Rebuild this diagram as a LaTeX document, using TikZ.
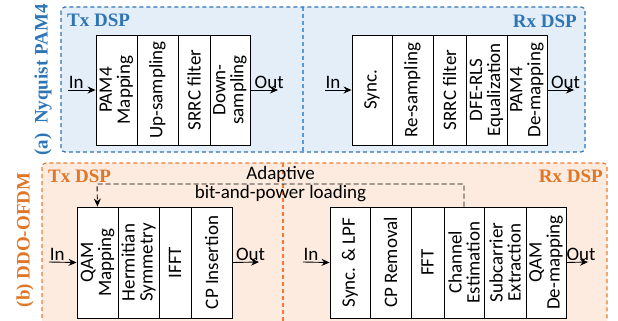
\documentclass[tikz,border=0pt]{standalone}
\usepackage{fontspec}
\setmainfont{Carlito}
\newfontfamily\headfont{Liberation Serif}
\usetikzlibrary{arrows.meta}

\definecolor{pamblue}{HTML}{2E75B6}
\definecolor{pamline}{HTML}{5B9BD5}
\definecolor{pamfill}{HTML}{E4EEF8}
\definecolor{ofdmorange}{HTML}{ED7D31}
\definecolor{ofdmtext}{HTML}{E07628}
\definecolor{ofdmfill}{HTML}{FCEBDE}

\tikzset{
    blk/.style={draw, fill=white, line width=0.9pt, rotate=90, inner sep=0pt,
        align=center, font=\fontsize{19}{18}\selectfont},
    lbl/.style={font=\fontsize{19}{20}\selectfont, inner sep=1pt},
    dsp/.style={font=\headfont\bfseries\fontsize{19}{20}\selectfont, inner sep=0pt},
    panel/.style={line width=1.2pt, dash pattern=on 4pt off 3pt, rounded corners=4pt},
    sig/.style={line width=0.9pt, -{Stealth[length=8pt,width=7pt]}},
}

\begin{document}
\begin{tikzpicture}[x=1pt, y=-1pt]

        \clip (0,0) rectangle (618,321);

        % (a) Nyquist PAM4
        \fill[pamfill, rounded corners=4pt] (61,7) rectangle (585,152);
        \draw[pamline, line width=1.2pt, dash pattern=on 4pt off 3pt] (303,7) -- (303,152);
        \draw[panel, pamblue] (61,7) rectangle (585,152);
        \node(aname)[dsp, pamblue, rotate=90] at (43,80) {(a)\ \ Nyquist PAM4};
        \node(atx)[dsp, pamblue, anchor=west] at (67,20) {Tx DSP};
        \node(arx)[dsp, pamblue, anchor=east] at (577,21) {Rx DSP};

        % Tx:
        \node(pam)[blk, minimum width=110pt, minimum height=41pt] at (116.5,90) {PAM4\\Mapping};
        \node(ups)[blk, minimum width=110pt, minimum height=41pt] at (157.5,90) {Up-sampling};
        \node(srrct)[blk, minimum width=110pt, minimum height=32pt] at (194,90) {SRRC filter};
        \node(dws)[blk, minimum width=110pt, minimum height=40pt] at (230,90) {Down-\\sampling};
        \coordinate(atxin) at (68,90);
        \coordinate(atxout) at (278,90);
        \draw[sig] (atxin) -- node[lbl, pos=0.3, above]{In} (pam.north);
        \draw[sig] (dws.south) -- node[lbl, pos=0.68, above]{Out} (atxout);

        % Rx:
        \node(syn)[blk, minimum width=110pt, minimum height=40pt] at (372,90) {Sync.};
        \node(rsm)[blk, minimum width=110pt, minimum height=41pt] at (412.5,90) {Re-sampling};
        \node(srrcr)[blk, minimum width=110pt, minimum height=33pt] at (449.5,90) {SRRC filter};
        \node(dfe)[blk, minimum width=110pt, minimum height=41pt] at (486.5,90) {DFE-RLS\\Equalization};
        \node(pdm)[blk, minimum width=110pt, minimum height=40pt] at (527,90) {PAM4\\De-mapping};
        \coordinate(arxin) at (325,90);
        \coordinate(arxout) at (574,90);
        \draw[sig] (arxin) -- node[lbl, pos=0.3, above]{In} (syn.north);
        \draw[sig] (pdm.south) -- node[lbl, pos=0.68, above]{Out} (arxout);

        % (b) DDO-OFDM
        \fill[ofdmfill, rounded corners=4pt] (42,163) rectangle (607,340);
        \draw[ofdmorange, line width=1.2pt, dash pattern=on 4pt off 3pt] (283,163) -- (283,340);
        \draw[panel, ofdmorange] (42,163) rectangle (607,340);
        \node(bname)[dsp, ofdmtext, rotate=90] at (25,240) {(b) DDO-OFDM};
        \node(btx)[dsp, ofdmtext, anchor=west] at (48,176) {Tx DSP};
        \node(brx)[dsp, ofdmtext, anchor=east] at (603,176) {Rx DSP};

        % Tx:
        \node(qam)[blk, minimum width=111pt, minimum height=41pt] at (97.5,262.5) {QAM\\Mapping};
        \node(hsym)[blk, minimum width=111pt, minimum height=41pt] at (138.5,262.5) {Hermitian\\Symmetry};
        \node(ifft)[blk, minimum width=111pt, minimum height=32pt] at (175,262.5) {IFFT};
        \node(cpi)[blk, minimum width=111pt, minimum height=41pt] at (211.5,262.5) {CP Insertion};
        \coordinate(btxin) at (49,262);
        \coordinate(btxout) at (259,262);
        \draw[sig] (btxin) -- node[lbl, pos=0.3, above]{In} (qam.north);
        \draw[sig] (cpi.south) -- node[lbl, pos=0.68, above]{Out} (btxout);

        % Rx:
        \node(slpf)[blk, minimum width=111pt, minimum height=40pt] at (350,262.5) {Sync. \& LPF};
        \node(cpr)[blk, minimum width=111pt, minimum height=41pt] at (390.5,262.5) {CP Removal};
        \node(fft)[blk, minimum width=111pt, minimum height=33pt] at (427.5,262.5) {FFT};
        \node(che)[blk, minimum width=111pt, minimum height=40pt] at (464,262.5) {Channel\\Estimation};
        \node(sce)[blk, minimum width=111pt, minimum height=42pt] at (505,262.5) {Subcarrier\\Extraction};
        \node(qdm)[blk, minimum width=111pt, minimum height=40pt] at (546,262.5) {QAM\\De-mapping};
        \coordinate(brxin) at (303,262);
        \coordinate(brxout) at (588,262);
        \draw[sig] (brxin) -- node[lbl, pos=0.3, above]{In} (slpf.north);
        \draw[sig] (qdm.south) -- node[lbl, pos=0.68, above]{Out} (brxout);

        % feedback to the transmitter
        \coordinate(fbl) at (97,184);
        \draw[sig, dash pattern=on 5pt off 3pt] (che.east) |- node[lbl, pos=0.75, above]{Adaptive}
            node[lbl, pos=0.75, below]{bit-and-power loading} (fbl) -- (qam.east);

    \end{tikzpicture}
\end{document}
